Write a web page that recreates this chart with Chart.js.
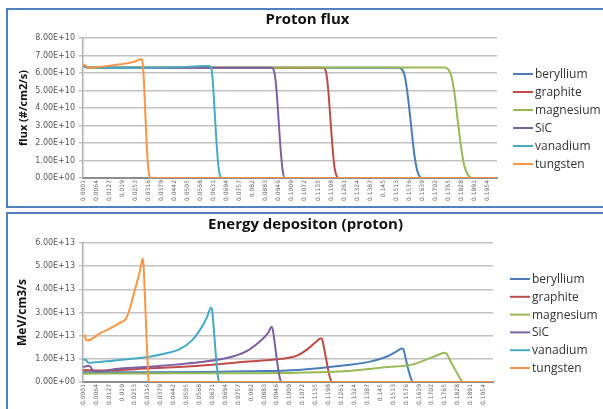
<!DOCTYPE html>
<html>
<head>
<meta charset="utf-8">
<script src="https://cdn.jsdelivr.net/npm/chart.js@4.4.1/dist/chart.umd.min.js"></script>
<style>
  html, body { margin: 0; padding: 0; background: #fff; overflow: hidden; }
  #page { position: relative; width: 603px; height: 409px; overflow: hidden; background: #fff; }
  .rule { position: absolute; background: #4f81bd; }
  canvas { position: absolute; }
  #flux { left: 8px; top: 10px; }
  #energy { left: 8px; top: 214px; }
</style>
</head>
<body>
<div id="page">
  <!-- frame edges drawn as separate strips, the right edge is off the picture -->
  <div class="rule" style="left:6px; top:8px; width:700px; height:2px"></div>
  <div class="rule" style="left:6px; top:206px; width:700px; height:2px"></div>
  <div class="rule" style="left:6px; top:8px; width:2px; height:200px"></div>
  <div class="rule" style="left:6px; top:212px; width:700px; height:2px"></div>
  <div class="rule" style="left:6px; top:212px; width:2px; height:220px"></div>
  <canvas id="flux" width="599" height="196"></canvas>
  <canvas id="energy" width="595" height="195"></canvas>
</div>
<script>
// x axis tick labels (depth), same for both charts
const xTickLabels = [0.0001, 0.0064, 0.0127, 0.019, 0.0253, 0.0316, 0.0379, 0.0442, 0.0505, 0.0568,
  0.0631, 0.0694, 0.0757, 0.082, 0.0883, 0.0946, 0.1009, 0.1072, 0.1135, 0.1198, 0.1261, 0.1324,
  0.1387, 0.145, 0.1513, 0.1576, 0.1639, 0.1702, 0.1765, 0.1828, 0.1891, 0.1954];

const materials = ['beryllium', 'graphite', 'magnesium', 'SiC', 'vanadium', 'tungsten'];
const colors = ['#4a7ebb', '#be4b48', '#98b954', '#7d60a0', '#46aac5', '#f79646'];

// Proton flux (#/cm2/s), [depth, value]
const fluxBeryllium = [[0.0001, 6.45e10], [0.003, 6.3e10], [0.152, 6.3e10], [0.1545, 6.15e10], [0.1555, 5.8e10],
  [0.157, 4.6e10], [0.1585, 3.0e10], [0.16, 1.4e10], [0.1615, 0.4e10], [0.1628, 0.05e10], [0.1635, 0], [0.2, 0]];
const fluxGraphite = [[0.0001, 6.4e10], [0.003, 6.3e10], [0.116, 6.3e10], [0.1175, 6.0e10], [0.1185, 5.0e10],
  [0.1195, 3.4e10], [0.1205, 1.8e10], [0.1215, 0.6e10], [0.1228, 0.05e10], [0.1235, 0], [0.2, 0]];
const fluxMagnesium = [[0.0001, 6.4e10], [0.003, 6.32e10], [0.175, 6.32e10], [0.1765, 6.2e10], [0.178, 5.8e10],
  [0.1795, 4.8e10], [0.181, 3.3e10], [0.1825, 1.9e10], [0.184, 0.8e10], [0.1858, 0.2e10], [0.1875, 0.02e10],
  [0.189, 0], [0.2, 0]];
const fluxSiC = [[0.0001, 6.4e10], [0.003, 6.3e10], [0.091, 6.3e10], [0.0925, 6.0e10], [0.0935, 5.0e10],
  [0.0945, 3.3e10], [0.0955, 1.6e10], [0.0965, 0.4e10], [0.0975, 0], [0.2, 0]];
const fluxVanadium = [[0.0001, 6.45e10], [0.003, 6.3e10], [0.03, 6.3e10], [0.05, 6.35e10], [0.058, 6.4e10],
  [0.0605, 6.4e10], [0.0618, 6.35e10], [0.0625, 5.8e10], [0.0635, 4.0e10], [0.0645, 2.0e10], [0.0655, 0.6e10],
  [0.0665, 0.05e10], [0.0672, 0], [0.2, 0]];
const fluxTungsten = [[0.0001, 6.5e10], [0.0015, 6.4e10], [0.003, 6.3e10], [0.008, 6.35e10], [0.015, 6.45e10],
  [0.021, 6.55e10], [0.025, 6.65e10], [0.0278, 6.78e10], [0.0284, 6.78e10], [0.0289, 6.5e10], [0.0295, 5.4e10],
  [0.0302, 3.4e10], [0.031, 1.4e10], [0.0318, 0.3e10], [0.0326, 0], [0.2, 0]];

// Energy deposition (MeV/cm3/s), [depth, value]
const edepBeryllium = [[0.0001, 0.42e13], [0.03, 0.42e13], [0.06, 0.43e13], [0.08, 0.46e13], [0.105, 0.52e13],
  [0.129, 0.73e13], [0.14, 0.88e13], [0.148, 1.09e13], [0.153, 1.32e13], [0.1556, 1.45e13], [0.1562, 1.42e13],
  [0.1572, 1.1e13], [0.1585, 0.6e13], [0.1598, 0.2e13], [0.1609, 0], [0.2, 0]];
const edepGraphite = [[0.0001, 0.52e13], [0.01, 0.5e13], [0.0324, 0.59e13], [0.0565, 0.7e13], [0.0807, 0.88e13],
  [0.097, 1.0e13], [0.105, 1.16e13], [0.11, 1.45e13], [0.1137, 1.74e13], [0.1158, 1.88e13], [0.1165, 1.88e13],
  [0.1175, 1.5e13], [0.1188, 0.9e13], [0.12, 0.35e13], [0.121, 0.05e13], [0.1217, 0], [0.2, 0]];
const edepMagnesium = [[0.0001, 0.36e13], [0.03, 0.37e13], [0.07, 0.38e13], [0.105, 0.4e13], [0.129, 0.47e13],
  [0.145, 0.62e13], [0.161, 0.76e13], [0.169, 1.02e13], [0.174, 1.2e13], [0.1765, 1.26e13], [0.1775, 1.2e13],
  [0.179, 0.95e13], [0.181, 0.62e13], [0.183, 0.3e13], [0.1845, 0.08e13], [0.1855, 0], [0.2, 0]];
const edepSiC = [[0.0001, 0.65e13], [0.003, 0.7e13], [0.005, 0.48e13], [0.008, 0.45e13], [0.015, 0.55e13],
  [0.0324, 0.66e13], [0.045, 0.75e13], [0.0565, 0.85e13], [0.0726, 1.09e13], [0.0807, 1.38e13], [0.0871, 1.81e13],
  [0.0905, 2.15e13], [0.0919, 2.38e13], [0.0925, 2.3e13], [0.0935, 1.7e13], [0.0945, 1.0e13], [0.0955, 0.4e13],
  [0.0963, 0.08e13], [0.097, 0], [0.2, 0]];
const edepVanadium = [[0.0001, 0.97e13], [0.0015, 0.95e13], [0.0025, 0.83e13], [0.01, 0.88e13], [0.02, 0.97e13],
  [0.0324, 1.09e13], [0.04, 1.23e13], [0.047, 1.41e13], [0.0533, 1.81e13], [0.058, 2.38e13], [0.0605, 2.8e13],
  [0.0625, 3.22e13], [0.063, 3.1e13], [0.0638, 2.3e13], [0.0646, 1.38e13], [0.0655, 0.5e13], [0.0662, 0.05e13],
  [0.0668, 0], [0.2, 0]];
const edepTungsten = [[0.0001, 2.0e13], [0.001, 2.0e13], [0.0015, 1.8e13], [0.0026, 1.8e13], [0.0082, 2.1e13],
  [0.013, 2.3e13], [0.018, 2.55e13], [0.0211, 2.75e13], [0.0228, 3.15e13], [0.0243, 3.65e13], [0.026, 4.2e13],
  [0.0275, 4.7e13], [0.0286, 5.15e13], [0.0291, 5.33e13], [0.0295, 5.1e13], [0.0303, 3.5e13], [0.031, 1.9e13],
  [0.0316, 0.7e13], [0.032, 0.05e13], [0.0325, 0], [0.2, 0]];

Chart.defaults.font.family = '"Open Sans", sans-serif';
Chart.defaults.color = '#333';

// 8.00E+10 style labels
function sci(v) {
  if (v === 0) return '0.00E+00';
  const e = Math.floor(Math.log10(Math.abs(v)) + 1e-9);
  const m = v / Math.pow(10, e);
  return m.toFixed(2) + 'E+' + String(e).padStart(2, '0');
}

// legend drawn to the right of the plot like the excel one
const sideLegend = {
  id: 'sideLegend',
  afterDraw(chart, args, opts) {
    const { ctx, chartArea } = chart;
    ctx.save();
    ctx.font = '12px "Open Sans"';
    ctx.textBaseline = 'middle';
    ctx.fillStyle = '#333';
    chart.data.datasets.forEach((ds, i) => {
      const x = chartArea.right + opts.dx;
      const y = chartArea.top + opts.dy + i * opts.gap;
      ctx.strokeStyle = ds.borderColor;
      ctx.lineWidth = 2;
      ctx.beginPath();
      ctx.moveTo(x, y);
      ctx.lineTo(x + 20, y);
      ctx.stroke();
      ctx.fillText(ds.label, x + 22, y + 0.5);
    });
    ctx.restore();
  }
};

function makeChart(id, title, yTitle, series, yMax, yStep, opts) {
  const datasets = series.map((pts, i) => ({
    label: materials[i],
    data: pts.map(p => ({ x: p[0], y: p[1] })),
    borderColor: colors[i],
    backgroundColor: colors[i],
    borderWidth: 2,
    pointRadius: 0,
    cubicInterpolationMode: 'monotone',
    order: series.length - i
  }));

  return new Chart(document.getElementById(id), {
    type: 'line',
    data: { datasets },
    options: {
      responsive: false,
      animation: false,
      layout: { padding: 0 },
      plugins: {
        legend: { display: false },
        tooltip: { enabled: false },
        title: {
          display: true,
          text: title,
          color: '#111',
          font: { size: 15, weight: 'bold' },
          padding: { top: opts.titleTop, bottom: opts.titleBottom }
        },
        sideLegend: { dx: opts.legendDx, dy: 36, gap: opts.legendGap }
      },
      scales: {
        x: {
          type: 'linear',
          min: 0,
          max: 0.2,
          afterBuildTicks: (scale) => { scale.ticks = xTickLabels.map(v => ({ value: v })); },
          afterFit: (scale) => { scale.height = opts.xHeight; },
          ticks: {
            autoSkip: false,
            minRotation: 90,
            maxRotation: 90,
            padding: 2,
            color: '#666',
            font: { family: '"DejaVu Sans"', size: 6 },
            callback: (v) => String(v)
          },
          grid: { display: false, drawTicks: false },
          border: { display: true, color: '#8c8c8c', width: 2 }
        },
        y: {
          min: 0,
          max: yMax,
          afterBuildTicks: (scale) => {
            const t = [];
            for (let k = 0; k * yStep <= yMax; k++) t.push({ value: k * yStep });
            scale.ticks = t;
          },
          afterFit: (scale) => { scale.width = 75; },
          ticks: {
            padding: 4,
            color: '#555',
            font: { family: '"DejaVu Sans"', size: 8 },
            callback: (v) => sci(v)
          },
          grid: { color: '#c2c2c2', lineWidth: 1.5, tickLength: 4 },
          border: { display: true, color: '#b0b0b0', width: 1.5 },
          title: {
            display: true,
            text: yTitle,
            color: '#111',
            font: { size: opts.yTitleSize, weight: 'bold' },
            padding: { top: opts.yTitlePad, bottom: 0 }
          }
        },
        // empty right axis, only keeps room for the legend so the title stays centred
        legendRoom: {
          position: 'right',
          min: 0,
          max: 1,
          afterFit: (scale) => { scale.width = opts.rightRoom; },
          ticks: { display: false },
          grid: { display: false, drawTicks: false },
          border: { display: false }
        }
      }
    },
    plugins: [sideLegend]
  });
}

makeChart('flux', 'Proton flux', 'flux (#/cm2/s)',
  [fluxBeryllium, fluxGraphite, fluxMagnesium, fluxSiC, fluxVanadium, fluxTungsten],
  8e10, 1e10,
  { rightRoom: 110, titleTop: 1, titleBottom: 9, xHeight: 28, legendDx: 16, legendGap: 18, yTitleSize: 11, yTitlePad: 9 });

makeChart('energy', 'Energy depositon (proton)', 'MeV/cm3/s',
  [edepBeryllium, edepGraphite, edepMagnesium, edepSiC, edepVanadium, edepTungsten],
  6e13, 1e13,
  { rightRoom: 110, titleTop: 2, titleBottom: 9, xHeight: 27, legendDx: 17, legendGap: 17.8, yTitleSize: 12, yTitlePad: 7 });
</script>
</body>
</html>
